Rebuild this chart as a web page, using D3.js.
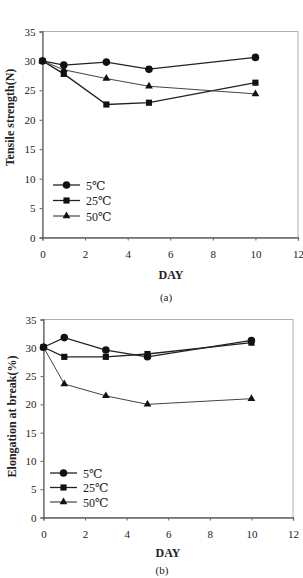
<!DOCTYPE html>
<html>
<head>
<meta charset="utf-8">
<script src="https://cdn.jsdelivr.net/npm/d3@7"></script>
<style>
  body { margin: 0; background: #fff; }
  svg { display: block; font-family: "Liberation Serif", "DejaVu Serif", serif; }
</style>
</head>
<body>
<script>
// datos
const days = [0, 1, 3, 5, 10];
const seriesNames = ["5℃", "25℃", "50℃"];
const seriesShapes = ["circle", "square", "triangle"];

const tensile5 = [30.0, 29.3, 29.8, 28.6, 30.6];
const tensile25 = [30.0, 27.8, 22.6, 22.9, 26.3];
const tensile50 = [30.0, 28.5, 27.0, 25.7, 24.4];

const elong5 = [30.1, 31.8, 29.6, 28.4, 31.3];
const elong25 = [30.1, 28.4, 28.4, 28.9, 30.9];
const elong50 = [30.1, 23.6, 21.5, 20.0, 21.0];

const xTicks = [0, 2, 4, 6, 8, 10, 12];
const yTicks = [0, 5, 10, 15, 20, 25, 30, 35];

const svg = d3.select("body").append("svg")
    .attr("width", 303)
    .attr("height", 578);

function drawPanel(opt) {
    const x = d3.scaleLinear().domain([0, 12]).range([opt.left, opt.right]);
    const y = d3.scaleLinear().domain([0, 35]).range([opt.bottom, opt.top]);
    const g = svg.append("g");

    // marco gris
    g.append("rect")
        .attr("x", opt.left).attr("y", opt.top)
        .attr("width", opt.right - opt.left).attr("height", opt.bottom - opt.top)
        .attr("fill", "none").attr("stroke", "#b0b0b0").attr("stroke-width", 1);

    const xAxis = g.append("g")
        .attr("transform", `translate(0,${opt.bottom})`)
        .call(d3.axisBottom(x).tickValues(xTicks).tickSize(3).tickPadding(10));
    const yAxis = g.append("g")
        .attr("transform", `translate(${opt.left},0)`)
        .call(d3.axisLeft(y).tickValues(yTicks).tickSize(3).tickPadding(4));

    [xAxis, yAxis].forEach(a => {
        a.select(".domain").attr("stroke", "#666").attr("stroke-width", 1.3);
        a.selectAll(".tick line").attr("stroke", "#666");
        a.selectAll(".tick text")
            .attr("fill", "#222")
            .style("font-family", "Liberation Serif")
            .style("font-size", "11px");
    });

    const line = d3.line().x((d, i) => x(days[i])).y(d => y(d));

    opt.series.forEach((vals, k) => {
        g.append("path")
            .attr("d", line(vals))
            .attr("fill", "none")
            .attr("stroke", k === 2 ? "#444" : "#222")
            .attr("stroke-width", k === 2 ? 1 : 1.3);
        g.selectAll(null)
            .data(vals)
            .enter()
            .append("path")
            .attr("d", marker(seriesShapes[k]))
            .attr("transform", (d, i) => `translate(${x(days[i])},${y(d)})`)
            .attr("fill", "#111");
    });

    // leyenda
    seriesNames.forEach((name, k) => {
        const ly = opt.legY + k * opt.legStep;
        g.append("line")
            .attr("x1", opt.legX).attr("x2", opt.legX + 27)
            .attr("y1", ly).attr("y2", ly)
            .attr("stroke", "#222").attr("stroke-width", k === 2 ? 1 : 1.3);
        g.append("path")
            .attr("d", marker(seriesShapes[k]))
            .attr("transform", `translate(${opt.legX + 13.5},${ly})`)
            .attr("fill", "#111");
        g.append("text")
            .attr("x", opt.legX + 33).attr("y", ly + 4.5)
            .attr("fill", "#222")
            .style("font-size", "12px")
            .text(name);
    });

    g.append("text")
        .attr("transform", `translate(${opt.titleX},${(opt.top + opt.bottom) / 2 - opt.titleShift}) rotate(-90)`)
        .attr("text-anchor", "middle")
        .style("font-weight", "bold")
        .style("font-size", "12px")
        .attr("fill", "#222")
        .text(opt.yTitle);

    g.append("text")
        .attr("x", opt.dayX).attr("y", opt.dayY)
        .attr("text-anchor", "middle")
        .style("font-weight", "bold")
        .style("font-size", "12px")
        .attr("fill", "#222")
        .text("DAY");

    g.append("text")
        .attr("x", opt.capX).attr("y", opt.capY)
        .attr("text-anchor", "middle")
        .style("font-size", "11px")
        .attr("fill", "#222")
        .text(opt.caption);
}

function marker(shape) {
    if (shape === "circle") return d3.symbol(d3.symbolCircle, 45)();
    if (shape === "square") return d3.symbol(d3.symbolSquare, 38)();
    return d3.symbol(d3.symbolTriangle, 26)();
}

drawPanel({
    left: 42.5, right: 298, top: 31.5, bottom: 237.5,
    series: [tensile5, tensile25, tensile50],
    yTitle: "Tensile strength(N)", titleX: 14, titleShift: 17,
    dayX: 171, dayY: 279,
    legX: 53, legY: 185, legStep: 15.5,
    caption: "(a)", capX: 166, capY: 301
});

drawPanel({
    left: 43.5, right: 293, top: 319.5, bottom: 517.5,
    series: [elong5, elong25, elong50],
    yTitle: "Elongation at break(%)", titleX: 16, titleShift: 2,
    dayX: 168, dayY: 557,
    legX: 50, legY: 473, legStep: 14.5,
    caption: "(b)", capX: 162, capY: 574
});
</script>
</body>
</html>
